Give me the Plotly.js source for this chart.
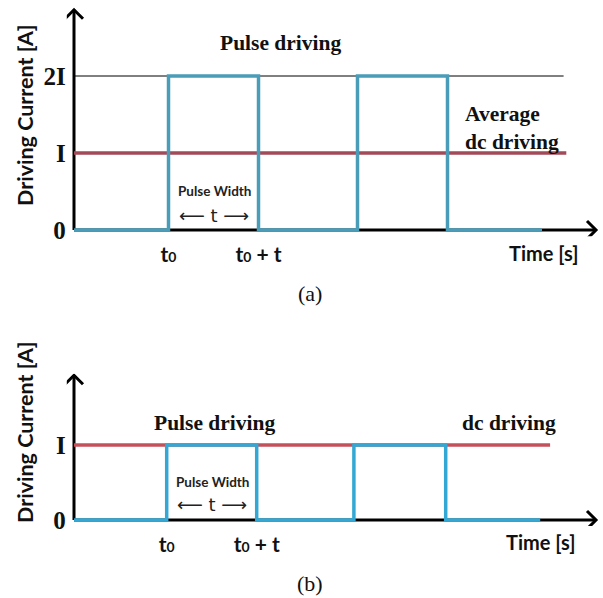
<!DOCTYPE html>
<html>
<head>
<meta charset="utf-8">
<script src="https://cdn.plot.ly/plotly-3.0.1.min.js"></script>
<style>html,body{margin:0;padding:0;background:#fff;}#chart{width:603px;height:598px;}</style>
</head>
<body>
<div id="chart"></div>
<script>
// ---- Data (time in pulse-width units, current in units of I) ----
const edgesA  = [0, 1.05, 2.05, 3.15, 4.15, 5.2];   // pulse waveform (a), step edges
const levelsA = [0, 2, 0, 2, 0, 0];                 // current level after each edge
const avgDcX  = [0, 5.47];                          // average dc driving (a)
const avgDcY  = [1, 1];
const refX    = [0, 5.44];                          // 2I reference line (a)
const refY    = [2, 2];

const edgesB  = [0, 1.03, 2.03, 3.11, 4.13, 5.18];  // pulse waveform (b)
const levelsB = [0, 1, 0, 1, 0, 0];
const dcX     = [0, 5.29];                          // dc driving (b)
const dcY     = [1, 1];

const yTickValsA = [0, 1, 2];
const yTickTextA = ['0', 'I', '2I'];
const yTickValsB = [0, 1];
const yTickTextB = ['0', 'I'];
const xTickText  = ["t<span style='font-size:14px'>0</span>", "t<span style='font-size:14px'>0</span> + t"];

// ---- Layout helpers (pixel geometry of the figure) ----
const W = 603, H = 598;
const pxU = 90;                 // px per time unit
const ox = 74;                  // x pixel of time 0
const xr = [-0.08, 5.84];
const xdom = [(ox + xr[0]*pxU)/W, (ox + xr[1]*pxU)/W];
function ydom(oy, pyU, yr){ return [(H - (oy - yr[0]*pyU))/H, (H - (oy - yr[1]*pyU))/H]; }
const yrA = [-0.08, 2.9], yrB = [-0.08, 1.95];
const ydomA = ydom(230, 77, yrA);
const ydomB = ydom(520, 75, yrB);
function P(px, py){ return {x: px/W, y: 1 - py/H, xref: 'paper', yref: 'paper', xanchor: 'center', yanchor: 'middle'}; }

const BLUE_A = '#4a9db8', RED_A = '#a34a58';
const BLUE_B = '#33a8d4', RED_B = '#c4505a';

const traces = [
  {x: refX, y: refY, xaxis: 'x', yaxis: 'y', mode: 'lines', line: {color: '#000', width: 1}},
  {x: avgDcX, y: avgDcY, xaxis: 'x', yaxis: 'y', mode: 'lines', line: {color: RED_A, width: 3.5}},
  {x: edgesA, y: levelsA, xaxis: 'x', yaxis: 'y', mode: 'lines', line: {color: BLUE_A, width: 3.5, shape: 'hv'}},
  {x: dcX, y: dcY, xaxis: 'x2', yaxis: 'y2', mode: 'lines', line: {color: RED_B, width: 3.5}},
  {x: edgesB, y: levelsB, xaxis: 'x2', yaxis: 'y2', mode: 'lines', line: {color: BLUE_B, width: 3.5, shape: 'hv'}}
];

const serif = 'Liberation Serif, Times New Roman, serif';
const sans = 'Lato, Open Sans, sans-serif';

function xax(ticks){
  return {domain: xdom, range: xr, showgrid: false, zeroline: false, showline: false,
    tickmode: 'array', tickvals: ticks, ticktext: xTickText, ticks: '',
    ticklabelstandoff: 4,
    tickfont: {family: sans, size: 21, color: '#111', weight: 'bold'}, fixedrange: true};
}
function yax(dom, rng, vals, text, anchor){
  return {domain: dom, range: rng, anchor: anchor, showgrid: false, zeroline: false, showline: false,
    tickmode: 'array', tickvals: vals, ticktext: text, ticks: '',
    tickfont: {family: serif, size: 25, color: '#111', weight: 'bold'}, fixedrange: true};
}

function axisShapes(xa, ya, yTop){
  const base = {xref: xa, yref: ya, layer: 'below', line: {color: '#000', width: 3}};
  return [
    Object.assign({type: 'line', x0: 0, x1: 5.8, y0: 0, y1: 0}, base),
    Object.assign({type: 'line', x0: 0, x1: 0, y0: 0, y1: yTop}, base),
    Object.assign({type: 'path', xsizemode: 'pixel', ysizemode: 'pixel', xanchor: 5.8, yanchor: 0,
      path: 'M -9 9 L 0 0 L -9 -9'}, base),
    Object.assign({type: 'path', xsizemode: 'pixel', ysizemode: 'pixel', xanchor: 0, yanchor: yTop,
      path: 'M -9 -9 L 0 0 L 9 -9'}, base)
  ];
}

function ann(px, py, text, font, extra){
  return Object.assign(P(px, py), {text: text, showarrow: false, font: font}, extra || {});
}
const fSerifB = {family: serif, size: 21.5, color: '#111', weight: 'bold'};
const fSansB = {family: sans, size: 21.5, color: '#111', weight: 'bold'};
const fTime = {family: sans, size: 20, color: '#111', weight: 'bold'};
const fSmall = {family: sans, size: 13.5, color: '#222', weight: 'bold'};
const fArrow = {family: 'DejaVu Sans, sans-serif', size: 18, color: '#222'};
const fCap = {family: serif, size: 22, color: '#111'};

const annotations = [
  ann(281, 43, 'Pulse driving', fSerifB),
  ann(463, 128, 'Average<br>dc driving', fSerifB, {xanchor: 'left', align: 'left'}),
  ann(214, 191, 'Pulse Width', fSmall),
  ann(214, 215, '⟵ t ⟶', fArrow),
  ann(543, 253, 'Time [s]', fTime),
  ann(310, 293, '(a)', fCap),
  ann(25, 116, 'Driving Current [A]', fSansB, {textangle: -90}),
  ann(215, 423, 'Pulse driving', fSerifB),
  ann(509, 423, 'dc driving', fSerifB),
  ann(212, 482, 'Pulse Width', fSmall),
  ann(212, 504, '⟵ t ⟶', fArrow),
  ann(540, 542, 'Time [s]', fTime),
  ann(310, 583, '(b)', fCap),
  ann(25, 433, 'Driving Current [A]', fSansB, {textangle: -90})
];

const layout = {
  width: W, height: H, margin: {l: 0, r: 0, t: 0, b: 0},
  paper_bgcolor: '#fff', plot_bgcolor: 'rgba(0,0,0,0)', showlegend: false,
  xaxis: Object.assign(xax([edgesA[1], edgesA[2]]), {anchor: 'y'}),
  yaxis: yax(ydomA, yrA, yTickValsA, yTickTextA, 'x'),
  xaxis2: Object.assign(xax([edgesB[1], edgesB[2]]), {anchor: 'y2'}),
  yaxis2: yax(ydomB, yrB, yTickValsB, yTickTextB, 'x2'),
  shapes: axisShapes('x', 'y', 2.86).concat(axisShapes('x2', 'y2', 1.93)),
  annotations: annotations
};

Plotly.newPlot('chart', traces, layout, {staticPlot: true, displayModeBar: false});
</script>
</body>
</html>
